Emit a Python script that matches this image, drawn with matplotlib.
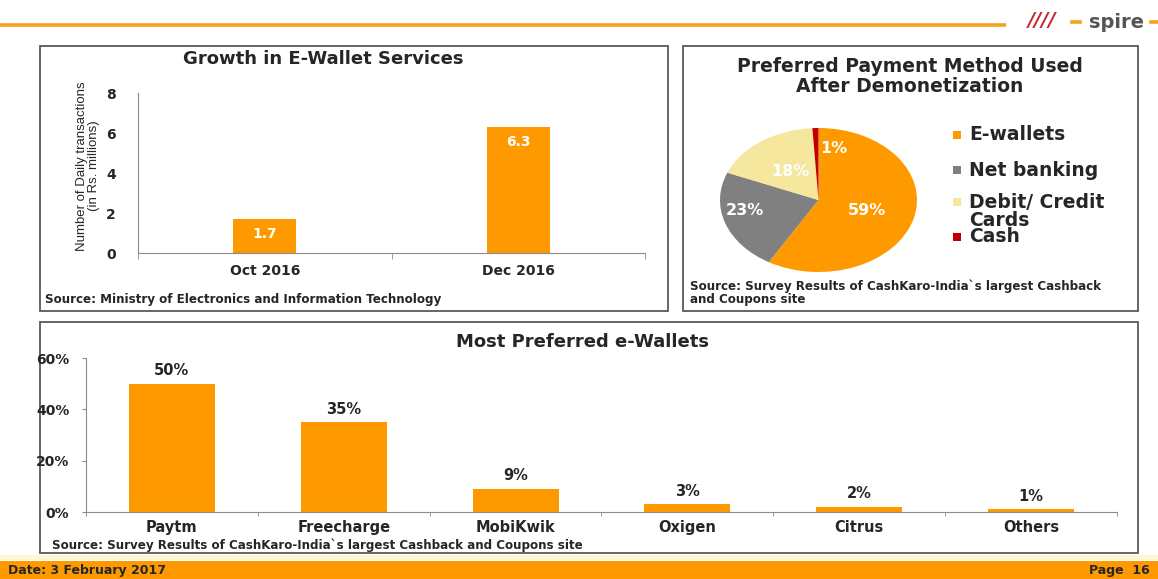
import matplotlib
matplotlib.use('Agg')
import matplotlib.pyplot as plt
from matplotlib.patches import Rectangle
from matplotlib.ticker import FixedLocator
from matplotlib import font_manager

plt.rcParams['font.family'] = ['DejaVu Sans']
plt.rcParams['font.weight'] = 'bold'

# ---------------- data ----------------
growth_periods = ['Oct 2016', 'Dec 2016']
growth_values = [1.7, 6.3]
growth_yticks = [0, 2, 4, 6, 8]

payment_methods = ['E-wallets', 'Net banking', 'Debit/ Credit\nCards', 'Cash']
payment_shares = [59, 23, 18, 1]

wallets = ['Paytm', 'Freecharge', 'MobiKwik', 'Oxigen', 'Citrus', 'Others']
wallet_shares = [50, 35, 9, 3, 2, 1]
wallet_yticks = [0, 20, 40, 60]

# ---------------- style ----------------
ORANGE = '#FF9900'
PIE_COLORS = ['#FF9900', '#808080', '#F5E79E', '#C00000']
TXT = '#262626'
AXIS = '#8C8C8C'
BORDER = '#595959'

names = {f.name for f in font_manager.fontManager.ttflist}
NARROW = 'Liberation Sans Narrow' if 'Liberation Sans Narrow' in names else 'Liberation Sans'

W, H = 1158, 579
fig = plt.figure(figsize=(W / 100, H / 100), dpi=100)


def box(x0, y0, x1, y1):
    return [x0 / W, 1 - y1 / H, (x1 - x0) / W, (y1 - y0) / H]


# background / decoration layer in pixel coordinates
bg = fig.add_axes([0, 0, 1, 1])
bg.set_xlim(0, W)
bg.set_ylim(H, 0)
bg.axis('off')

# top rule + logo
bg.plot([0, 1006], [25, 25], color='#F7A21B', lw=2.6, solid_capstyle='butt')
bg.plot([1072, 1080], [22, 22], color='#F7A21B', lw=2.6)
bg.plot([1151, 1158], [22, 22], color='#F7A21B', lw=2.6)
bg.text(1042, 20, '////', color='#C8262D', fontsize=14, fontstyle='italic',
        fontweight='bold', ha='center', va='center')
bg.text(1116, 22, 'spire', color='#555555', fontsize=14, fontweight='bold',
        ha='center', va='center')

# panel borders
for (x0, y0, x1, y1) in [(40, 46, 668, 311), (683, 46, 1138, 311), (40, 322, 1138, 553)]:
    bg.add_patch(Rectangle((x0, y0), x1 - x0, y1 - y0, fill=False,
                           edgecolor=BORDER, lw=1.3))

# footer
bg.add_patch(Rectangle((0, 555), W, 5, color='#FFF6D5', lw=0))
bg.add_patch(Rectangle((0, 561), W, 18, color=ORANGE, lw=0))
bg.text(8, 570.5, 'Date: 3 February 2017', color=TXT, fontsize=9,
        ha='left', va='center')
bg.text(1150, 570.5, 'Page  16', color=TXT, fontsize=9, ha='right', va='center')

# ---------------- panel 1: growth ----------------
bg.text(323, 59, 'Growth in E-Wallet Services', color=TXT, fontsize=13,
        ha='center', va='center')
bg.text(88, 166, 'Number of Daily transactions\n(in Rs. millions)', color=TXT,
        fontsize=9.5, fontweight='normal', rotation=90, ha='center', va='center',
        linespacing=1.0, family=[NARROW, 'DejaVu Sans'])
bg.text(45, 300, 'Source: Ministry of Electronics and Information Technology',
        color=TXT, fontsize=8.6, ha='left', va='center')

ax1 = fig.add_axes(box(138, 93, 645, 253))
x1 = list(range(len(growth_periods)))
bars1 = ax1.bar(x1, growth_values, width=0.25, color=ORANGE)
ax1.bar_label(bars1, labels=[f'{v:.1f}' for v in growth_values], padding=-16,
              color='white', fontsize=10, fontweight='bold')
ax1.set_xlim(-0.5, len(growth_periods) - 0.5)
ax1.set_ylim(0, 8)
ax1.set_yticks(growth_yticks)
ax1.set_xticks(x1)
ax1.set_xticklabels(growth_periods)
ax1.xaxis.set_minor_locator(FixedLocator([-0.5, 0.5, 1.5]))
ax1.tick_params(axis='x', which='major', length=0, pad=8, labelsize=10, labelcolor=TXT)
ax1.tick_params(axis='x', which='minor', length=4, color=AXIS)
ax1.tick_params(axis='y', length=0, pad=16, labelsize=10, labelcolor=TXT)
for s in ['top', 'right']:
    ax1.spines[s].set_visible(False)
for s in ['left', 'bottom']:
    ax1.spines[s].set_color(AXIS)
ax1.patch.set_alpha(0)

# ---------------- panel 2: pie ----------------
bg.text(910, 76.5, 'Preferred Payment Method Used\nAfter Demonetization', color=TXT,
        fontsize=13.5, ha='center', va='center', linespacing=1.0)
bg.text(690, 293, "Source: Survey Results of CashKaro-India`s largest Cashback\nand Coupons site",
        color=TXT, fontsize=8.6, ha='left', va='center', linespacing=1.05)

total = sum(payment_shares)
ax2 = fig.add_axes(box(720, 128, 917, 272))
wedges, _, autotexts = ax2.pie(payment_shares, colors=PIE_COLORS, startangle=90,
                               counterclock=False, radius=1,
                               autopct=lambda p: f'{p * total / 100:.0f}%',
                               pctdistance=0.55,
                               wedgeprops=dict(linewidth=0),
                               textprops=dict(color='white', fontsize=11.5,
                                              fontweight='bold'))
label_pos = [(0.49, -0.15), (-0.745, -0.14), (-0.29, 0.39), (0.15, 0.72)]
for t, pos in zip(autotexts, label_pos):
    t.set_position(pos)
    t.set_ha('center')
    t.set_va('center')
ax2.set_aspect('auto')
ax2.set_xlim(-1, 1)
ax2.set_ylim(-1, 1)

legend_y = [135, 170, 202, 237]
for lab, col, y in zip(payment_methods, PIE_COLORS, legend_y):
    bg.add_patch(Rectangle((953, y - 4), 8, 8, color=col, lw=0))
    for i, line in enumerate(lab.split('\n')):
        bg.text(969, y + 18 * i, line, color=TXT, fontsize=13.5, ha='left', va='center')

# ---------------- panel 3: wallets ----------------
bg.text(582, 342, 'Most Preferred e-Wallets', color=TXT, fontsize=13,
        ha='center', va='center')
bg.text(52, 545, "Source: Survey Results of CashKaro-India`s largest Cashback and Coupons site",
        color=TXT, fontsize=8.6, ha='left', va='center')

ax3 = fig.add_axes(box(86, 358, 1117, 512))
x3 = list(range(len(wallets)))
bars3 = ax3.bar(x3, wallet_shares, width=0.5, color=ORANGE)
ax3.bar_label(bars3, labels=[f'{v}%' for v in wallet_shares], padding=4,
              color=TXT, fontsize=10.5, fontweight='bold')
ax3.set_xlim(-0.5, len(wallets) - 0.5)
ax3.set_ylim(0, 60)
ax3.set_yticks(wallet_yticks)
ax3.set_yticklabels([f'{v}%' for v in wallet_yticks])
ax3.set_xticks(x3)
ax3.set_xticklabels(wallets)
ax3.xaxis.set_minor_locator(FixedLocator([i - 0.5 for i in range(len(wallets) + 1)]))
ax3.tick_params(axis='x', which='major', length=0, pad=6, labelsize=10.5, labelcolor=TXT)
ax3.tick_params(axis='x', which='minor', length=3, color=AXIS)
ax3.tick_params(axis='y', length=3, color=AXIS, pad=9, labelsize=10, labelcolor=TXT)
for s in ['top', 'right']:
    ax3.spines[s].set_visible(False)
for s in ['left', 'bottom']:
    ax3.spines[s].set_color(AXIS)
ax3.patch.set_alpha(0)

fig.savefig('out.png', dpi=100)
